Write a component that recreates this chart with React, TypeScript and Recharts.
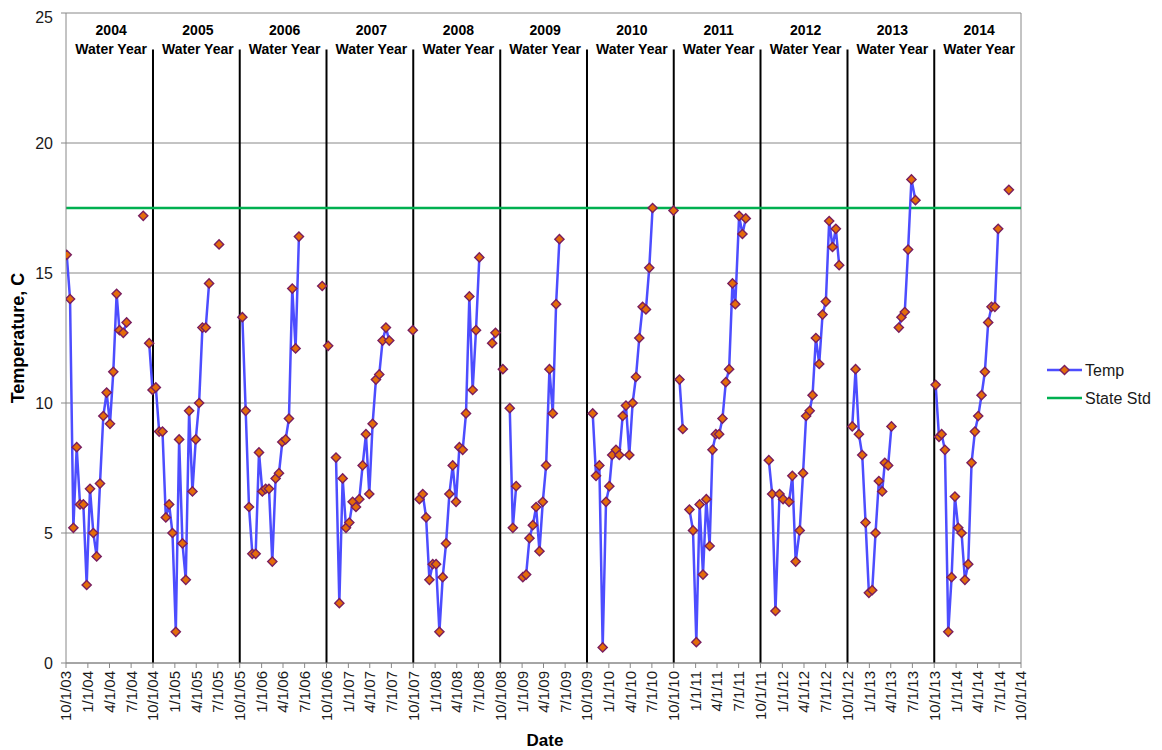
import React from 'react';
import { LineChart, Line, XAxis, YAxis, CartesianGrid, ReferenceLine, ReferenceDot } from 'recharts';

// Sample dates (null temps mark breaks in the line)
const sampleDates = [
  '2003-10-04','2003-10-18','2003-11-01','2003-11-15','2003-11-29','2003-12-13','2003-12-27','2004-01-10','2004-01-24','2004-02-07',
  '2004-02-21','2004-03-06','2004-03-20','2004-04-03','2004-04-17','2004-05-01','2004-05-13','2004-05-29','2004-06-12','2004-07-15',
  '2004-08-21','2004-09-01','2004-09-15','2004-09-29',
  '2004-10-13','2004-10-27','2004-11-10','2004-11-24','2004-12-08','2004-12-22','2005-01-05','2005-01-19','2005-02-02','2005-02-16',
  '2005-03-02','2005-03-16','2005-03-30','2005-04-13','2005-04-27','2005-05-11','2005-05-25','2005-06-15','2005-07-06','2005-08-01',
  '2005-10-12','2005-10-26','2005-11-09','2005-11-23','2005-12-07','2005-12-21','2006-01-04','2006-01-18','2006-02-01','2006-02-15',
  '2006-03-01','2006-03-15','2006-03-29','2006-04-12','2006-04-26','2006-05-10','2006-05-24','2006-06-07','2006-08-01','2006-09-13',
  '2006-09-25','2006-10-08','2006-10-25',
  '2006-11-10','2006-11-24','2006-12-08','2006-12-22','2007-01-05','2007-01-19','2007-02-02','2007-02-16','2007-03-02','2007-03-16',
  '2007-03-30','2007-04-13','2007-04-27','2007-05-11','2007-05-25','2007-06-08','2007-06-22','2007-08-01','2007-09-29','2007-10-13',
  '2007-10-27','2007-11-10','2007-11-24','2007-12-08','2007-12-22','2008-01-05','2008-01-19','2008-02-02','2008-02-16','2008-03-01',
  '2008-03-15','2008-03-29','2008-04-12','2008-04-26','2008-05-10','2008-05-24','2008-06-07','2008-06-21','2008-07-05','2008-08-01',
  '2008-08-28','2008-09-11','2008-09-25',
  '2008-10-12','2008-10-26','2008-11-10','2008-11-23','2008-12-07','2008-12-21','2009-01-04','2009-01-18','2009-02-01','2009-02-15',
  '2009-03-01','2009-03-15','2009-03-29','2009-04-12','2009-04-26','2009-05-10','2009-05-24','2009-06-07','2009-08-01',
  '2009-10-25','2009-11-08','2009-11-22','2009-12-06','2009-12-20','2010-01-03','2010-01-15','2010-01-31','2010-02-14','2010-02-28',
  '2010-03-14','2010-03-28','2010-04-11','2010-04-25','2010-05-09','2010-05-23','2010-06-06','2010-06-20','2010-07-04','2010-08-15',
  '2010-09-30','2010-10-10',
  '2010-10-25','2010-11-08','2010-11-22','2010-12-06','2010-12-21','2011-01-04','2011-01-18','2011-02-01','2011-02-15','2011-03-01',
  '2011-03-13','2011-03-27','2011-04-10','2011-04-24','2011-05-08','2011-05-22','2011-06-05','2011-06-17','2011-07-03','2011-07-17',
  '2011-07-31','2011-09-01',
  '2011-11-05','2011-11-19','2011-12-03','2011-12-20','2012-01-04','2012-01-29','2012-02-12','2012-02-26','2012-03-14','2012-03-28',
  '2012-04-10','2012-04-25','2012-05-07','2012-05-21','2012-06-04','2012-06-18','2012-07-02','2012-07-16','2012-07-30','2012-08-13',
  '2012-08-27','2012-09-20',
  '2012-10-21','2012-11-04','2012-11-18','2012-12-02','2012-12-16','2012-12-30','2013-01-13','2013-01-27','2013-02-10','2013-02-24',
  '2013-03-07','2013-03-21','2013-04-04','2013-04-20','2013-05-05','2013-05-16','2013-05-30','2013-06-13','2013-06-27','2013-07-14',
  '2013-08-20',
  '2013-10-07','2013-10-21','2013-11-01','2013-11-15','2013-11-29','2013-12-13','2013-12-27','2014-01-10','2014-01-24','2014-02-07',
  '2014-02-21','2014-03-07','2014-03-21','2014-04-04','2014-04-18','2014-05-02','2014-05-16','2014-05-30','2014-06-13','2014-06-27',
  '2014-07-20','2014-08-11',
];

const tempValues: (number | null)[] = [
  15.7, 14.0, 5.2, 8.3, 6.1, 6.1, 3.0, 6.7, 5.0, 4.1,
  6.9, 9.5, 10.4, 9.2, 11.2, 14.2, 12.8, 12.7, 13.1, null,
  17.2, null, 12.3, 10.5,
  10.6, 8.9, 8.9, 5.6, 6.1, 5.0, 1.2, 8.6, 4.6, 3.2,
  9.7, 6.6, 8.6, 10.0, 12.9, 12.9, 14.6, null, 16.1, null,
  13.3, 9.7, 6.0, 4.2, 4.2, 8.1, 6.6, 6.7, 6.7, 3.9,
  7.1, 7.3, 8.5, 8.6, 9.4, 14.4, 12.1, 16.4, null, 14.5,
  null, 12.2, null,
  7.9, 2.3, 7.1, 5.2, 5.4, 6.2, 6.0, 6.3, 7.6, 8.8,
  6.5, 9.2, 10.9, 11.1, 12.4, 12.9, 12.4, null, 12.8, null,
  6.3, 6.5, 5.6, 3.2, 3.8, 3.8, 1.2, 3.3, 4.6, 6.5,
  7.6, 6.2, 8.3, 8.2, 9.6, 14.1, 10.5, 12.8, 15.6, null,
  12.3, 12.7, null,
  11.3, null, 9.8, 5.2, 6.8, null, 3.3, 3.4, 4.8, 5.3,
  6.0, 4.3, 6.2, 7.6, 11.3, 9.6, 13.8, 16.3, null,
  9.6, 7.2, 7.6, 0.6, 6.2, 6.8, 8.0, 8.2, 8.0, 9.5,
  9.9, 8.0, 10.0, 11.0, 12.5, 13.7, 13.6, 15.2, 17.5, null,
  17.4, null,
  10.9, 9.0, null, 5.9, 5.1, 0.8, 6.1, 3.4, 6.3, 4.5,
  8.2, 8.8, 8.8, 9.4, 10.8, 11.3, 14.6, 13.8, 17.2, 16.5,
  17.1, null,
  7.8, 6.5, 2.0, 6.5, 6.3, 6.2, 7.2, 3.9, 5.1, 7.3,
  9.5, 9.7, 10.3, 12.5, 11.5, 13.4, 13.9, 17.0, 16.0, 16.7,
  15.3, null,
  9.1, 11.3, 8.8, 8.0, 5.4, 2.7, 2.8, 5.0, 7.0, 6.6,
  7.7, 7.6, 9.1, null, 12.9, 13.3, 13.5, 15.9, 18.6, 17.8,
  null,
  10.7, 8.7, 8.8, 8.2, 1.2, 3.3, 6.4, 5.2, 5.0, 3.2,
  3.8, 7.7, 8.9, 9.5, 10.3, 11.2, 13.1, 13.7, 13.7, 16.7,
  null, 18.2,
];

const waterYears = [2004, 2005, 2006, 2007, 2008, 2009, 2010, 2011, 2012, 2013, 2014];
const yTicks = [0, 5, 10, 15, 20, 25];
const stateStd = 17.5;
const axisStart = '2003-10-01';
const axisEnd = '2014-10-01';

const toDay = (s: string) => {
  const [y, m, d] = s.split('-').map(Number);
  return Date.UTC(y, m - 1, d) / 86400000;
};
const fmtTick = (v: number) => {
  const dt = new Date(v * 86400000);
  const yy = String(dt.getUTCFullYear() % 100).padStart(2, '0');
  return `${dt.getUTCMonth() + 1}/${dt.getUTCDate()}/${yy}`;
};

const xTicks: number[] = [];
for (let y = 2003; y <= 2014; y++) {
  for (const m of [1, 4, 7, 10]) {
    const v = Date.UTC(y, m - 1, 1) / 86400000;
    if (v >= toDay(axisStart) && v <= toDay(axisEnd)) xTicks.push(v);
  }
}

const chartData = sampleDates.map((d, i) => ({ t: toDay(d), temp: tempValues[i] }));

const FONT = '"Liberation Sans", Arial, sans-serif';
const GRID = '#888888';
const LINE_BLUE = '#4D4DFF';
const MARK_FILL = '#E46C0A';
const MARK_STROKE = '#7A1E5E';
const GREEN = '#00B050';

const Diamond = (props: any) => {
  const { cx, cy, index, payload } = props;
  if (cx == null || cy == null || !payload || payload.temp == null) return <g key={`e${index}`} />;
  const r = 4.6;
  return (
    <path
      key={`d${index}`}
      d={`M${cx},${cy - r}L${cx + r},${cy}L${cx},${cy + r}L${cx - r},${cy}Z`}
      fill={MARK_FILL}
      stroke={MARK_STROKE}
      strokeWidth={1.4}
    />
  );
};

const XTick = (props: any) => {
  const { x, y, payload } = props;
  return (
    <text
      transform={`translate(${x},${y}) rotate(-90)`}
      x={-1}
      y={0}
      dy="0.36em"
      textAnchor="end"
      fontSize={15}
      fontFamily={FONT}
      fill="#1a1a1a"
    >
      {fmtTick(payload.value)}
    </text>
  );
};

const WYLabel = (year: number) => (props: any) => {
  const { cx, cy } = props;
  return (
    <g>
      <text x={cx} y={cy} textAnchor="middle" dominantBaseline="central" fontSize={14} fontWeight="bold" fontFamily={FONT} fill="#000">
        {year}
      </text>
      <text x={cx} y={cy + 19} textAnchor="middle" dominantBaseline="central" fontSize={14} fontWeight="bold" fontFamily={FONT} fill="#000">
        Water Year
      </text>
    </g>
  );
};

export default function App() {
  const t0 = toDay(axisStart);
  const t1 = toDay(axisEnd);
  return (
    <div style={{ position: 'relative', width: 1154, height: 742 }}>
      <LineChart width={1154} height={742} data={chartData} margin={{ top: 5, right: 141, left: 8, bottom: 7 }}>
        <CartesianGrid vertical={false} stroke={GRID} strokeWidth={1} />
        <XAxis
          dataKey="t"
          type="number"
          domain={[t0, t1]}
          ticks={xTicks}
          interval={0}
          height={80}
          tick={<XTick />}
          tickSize={5}
          tickMargin={2}
          stroke={GRID}
          allowDataOverflow
        />
        <YAxis
          domain={[0, 25]}
          ticks={yTicks}
          width={50}
          tickSize={5}
          tickMargin={8}
          stroke={GRID}
          tick={{ fontSize: 16, fontFamily: FONT, fill: '#1a1a1a' }}
          allowDataOverflow
        />
        <ReferenceLine x={t1} stroke={GRID} strokeWidth={1} />
        {waterYears.slice(1).map((wy) => {
          const x = toDay(`${wy - 1}-10-01`);
          return (
            <ReferenceLine
              key={`wy${wy}`}
              segment={[{ x, y: 0 }, { x, y: 23.6 }]}
              stroke="#000"
              strokeWidth={2}
            />
          );
        })}
        {waterYears.map((wy) => (
          <ReferenceDot
            key={`lab${wy}`}
            x={toDay(`${wy}-04-08`)}
            y={24.35}
            r={0}
            shape={WYLabel(wy)}
          />
        ))}
        <ReferenceLine y={stateStd} stroke={GREEN} strokeWidth={2.5} />
        <Line
          type="linear"
          dataKey="temp"
          stroke={LINE_BLUE}
          strokeWidth={2.5}
          dot={Diamond}
          activeDot={false}
          connectNulls={false}
          isAnimationActive={false}
        />
      </LineChart>
      <svg
        width={1154}
        height={742}
        style={{ position: 'absolute', left: 0, top: 0, pointerEvents: 'none' }}
      >
        <text
          transform="translate(10,330) rotate(-90)"
          textAnchor="middle"
          dominantBaseline="central"
          fontSize={18}
          fontWeight="bold"
          fontFamily={FONT}
          fill="#000"
        >
          Temperature, C
        </text>
        <text x={537} y={732} textAnchor="middle" dominantBaseline="central" fontSize={17} fontWeight="bold" fontFamily={FONT} fill="#000">
          Date
        </text>
        <line x1={1039} y1={362} x2={1074} y2={362} stroke={LINE_BLUE} strokeWidth={2.5} />
        <path d="M1056.5,357.4L1061.1,362L1056.5,366.6L1051.9,362Z" fill={MARK_FILL} stroke={MARK_STROKE} strokeWidth={1.4} />
        <text x={1077} y={362} dominantBaseline="central" fontSize={16} fontFamily={FONT} fill="#1a1a1a">Temp</text>
        <line x1={1039} y1={390} x2={1074} y2={390} stroke={GREEN} strokeWidth={2.5} />
        <text x={1077} y={390} dominantBaseline="central" fontSize={16} fontFamily={FONT} fill="#1a1a1a">State Std</text>
      </svg>
    </div>
  );
}
